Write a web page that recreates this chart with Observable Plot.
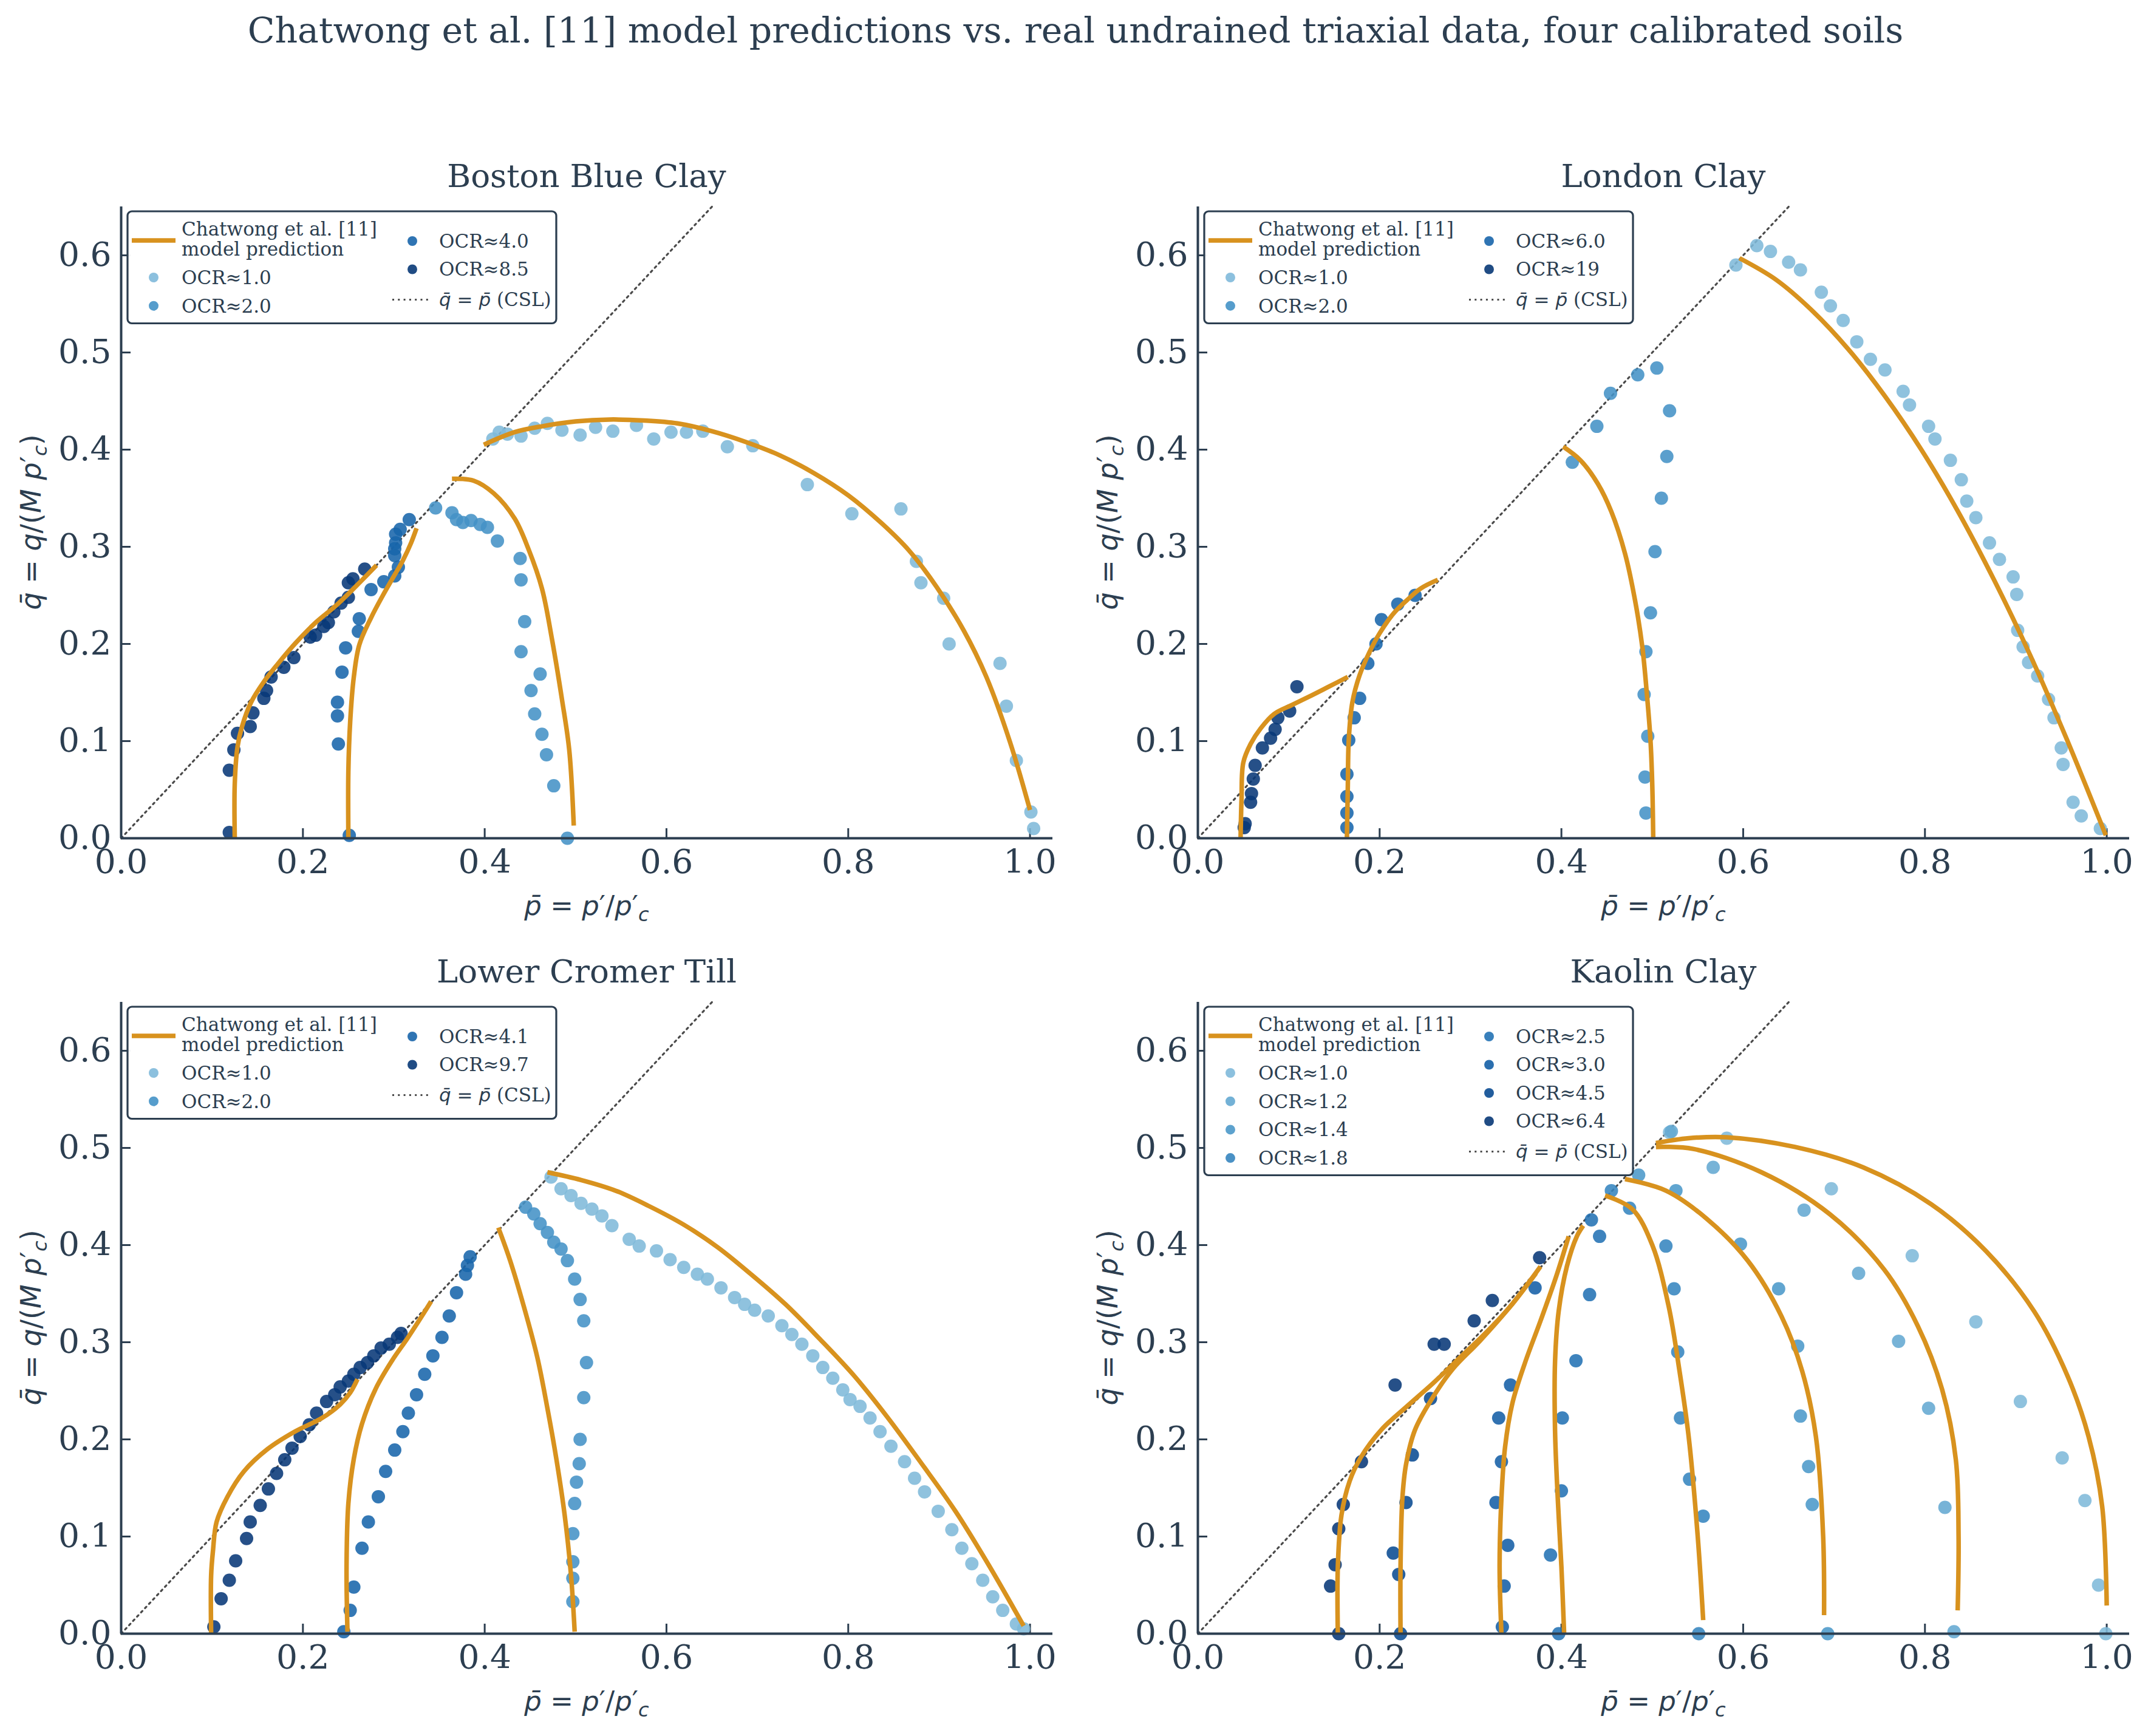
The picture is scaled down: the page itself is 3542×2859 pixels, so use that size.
<!DOCTYPE html>
<html>
<head>
<meta charset="utf-8">
<script src="https://cdn.jsdelivr.net/npm/d3@7"></script>
<script src="https://cdn.jsdelivr.net/npm/@observablehq/plot@0.6"></script>
<style>
  html, body { margin: 0; padding: 0; background: #ffffff; }
  body { width: 3542px; height: 2859px; position: relative; overflow: hidden; }
  #title {
    position: absolute; left: 0; top: 18px; width: 3542px; text-align: center;
    font-family: "DejaVu Serif", serif; font-size: 58.5px; line-height: 64px; color: #2c3e50;
  }
</style>
</head>
<body>
<div id="title">Chatwong et al. [11] model predictions vs. real undrained triaxial data, four calibrated soils</div>
<script>
// ---- axes ticks ----
const X_TICKS = [0, 0.2, 0.4, 0.6, 0.8, 1.0];
const Y_TICKS = [0, 0.1, 0.2, 0.3, 0.4, 0.5, 0.6];
const CSL_ENDS = [0, 0.65];

// ---- Boston Blue Clay ----
const bbcOCR = ["1.0", "2.0", "4.0", "8.5"];
const bbcTests = [
  [[0.409,0.411],[0.416,0.418],[0.425,0.416],[0.440,0.414],[0.455,0.422],[0.469,0.427],[0.485,0.420],[0.505,0.415],[0.522,0.423],[0.541,0.419],[0.567,0.425],[0.586,0.411],[0.605,0.418],[0.622,0.418],[0.640,0.419],[0.667,0.403],[0.695,0.404],[0.755,0.364],[0.804,0.334],[0.858,0.339],[0.875,0.285],[0.880,0.263],[0.905,0.247],[0.911,0.200],[0.967,0.180],[0.974,0.136],[0.985,0.080],[1.001,0.027],[1.004,0.010]],
  [[0.346,0.340],[0.364,0.335],[0.369,0.328],[0.376,0.325],[0.385,0.327],[0.395,0.323],[0.403,0.320],[0.414,0.306],[0.439,0.288],[0.440,0.266],[0.444,0.223],[0.440,0.192],[0.461,0.169],[0.451,0.152],[0.455,0.128],[0.463,0.107],[0.468,0.086],[0.476,0.054],[0.491,0.000]],
  [[0.251,0.003],[0.239,0.097],[0.238,0.126],[0.238,0.140],[0.243,0.171],[0.247,0.196],[0.261,0.213],[0.262,0.226],[0.275,0.256],[0.289,0.264],[0.301,0.270],[0.305,0.279],[0.301,0.291],[0.301,0.298],[0.302,0.304],[0.302,0.313],[0.307,0.318],[0.317,0.328]],
  [[0.119,0.006],[0.119,0.070],[0.124,0.091],[0.128,0.108],[0.142,0.115],[0.145,0.129],[0.157,0.144],[0.160,0.152],[0.165,0.166],[0.179,0.176],[0.190,0.186],[0.208,0.207],[0.214,0.209],[0.223,0.218],[0.228,0.222],[0.234,0.233],[0.242,0.242],[0.250,0.248],[0.250,0.263],[0.255,0.267],[0.268,0.277]]
];
const bbcModel = [
  [[0.399,0.405],[0.433,0.418],[0.463,0.424],[0.500,0.429],[0.537,0.431],[0.575,0.430],[0.612,0.427],[0.650,0.419],[0.687,0.408],[0.725,0.394],[0.762,0.376],[0.800,0.353],[0.837,0.324],[0.867,0.296],[0.897,0.259],[0.927,0.214],[0.952,0.166],[0.978,0.099],[1.000,0.029]],
  [[0.364,0.370],[0.388,0.368],[0.410,0.355],[0.433,0.329],[0.448,0.298],[0.463,0.257],[0.474,0.205],[0.485,0.143],[0.493,0.091],[0.498,0.013]],
  [[0.250,0.000],[0.250,0.069],[0.252,0.120],[0.256,0.166],[0.262,0.199],[0.275,0.227],[0.288,0.250],[0.299,0.268],[0.310,0.286],[0.319,0.304],[0.325,0.319]],
  [[0.125,0.000],[0.125,0.056],[0.128,0.094],[0.133,0.115],[0.143,0.140],[0.157,0.161],[0.172,0.179],[0.192,0.201],[0.214,0.222],[0.237,0.240],[0.259,0.260],[0.281,0.281]]
];

// ---- London Clay ----
const lcOCR = ["1.0", "2.0", "6.0", "19"];
const lcTests = [
  [[0.592,0.590],[0.615,0.610],[0.630,0.604],[0.650,0.593],[0.663,0.585],[0.686,0.562],[0.696,0.548],[0.710,0.533],[0.725,0.511],[0.740,0.493],[0.756,0.482],[0.776,0.460],[0.783,0.446],[0.804,0.424],[0.811,0.411],[0.828,0.389],[0.840,0.369],[0.846,0.347],[0.856,0.330],[0.871,0.304],[0.882,0.287],[0.897,0.269],[0.901,0.251],[0.902,0.214],[0.908,0.197],[0.914,0.181],[0.924,0.167],[0.936,0.143],[0.942,0.124],[0.950,0.093],[0.952,0.076],[0.963,0.037],[0.972,0.023],[0.993,0.010]],
  [[0.412,0.387],[0.439,0.424],[0.454,0.458],[0.484,0.477],[0.505,0.484],[0.519,0.440],[0.516,0.393],[0.510,0.350],[0.503,0.295],[0.498,0.232],[0.493,0.192],[0.491,0.148],[0.495,0.105],[0.492,0.063],[0.493,0.026]],
  [[0.164,0.011],[0.164,0.026],[0.164,0.043],[0.164,0.066],[0.166,0.101],[0.172,0.124],[0.178,0.144],[0.187,0.180],[0.196,0.200],[0.202,0.225],[0.220,0.241],[0.239,0.250]],
  [[0.051,0.011],[0.052,0.015],[0.058,0.037],[0.059,0.046],[0.061,0.061],[0.063,0.075],[0.071,0.093],[0.080,0.103],[0.085,0.112],[0.088,0.124],[0.101,0.131],[0.109,0.156]]
];
const lcModel = [
  [[0.596,0.597],[0.636,0.575],[0.676,0.543],[0.716,0.503],[0.756,0.455],[0.796,0.400],[0.836,0.337],[0.876,0.266],[0.916,0.188],[0.956,0.102],[0.999,0.003]],
  [[0.402,0.403],[0.421,0.389],[0.440,0.365],[0.455,0.336],[0.470,0.293],[0.481,0.245],[0.489,0.197],[0.494,0.149],[0.498,0.101],[0.500,0.054],[0.501,0.001]],
  [[0.164,0.001],[0.165,0.054],[0.166,0.101],[0.170,0.140],[0.178,0.168],[0.189,0.192],[0.200,0.211],[0.215,0.231],[0.230,0.245],[0.245,0.257],[0.264,0.266]],
  [[0.047,0.001],[0.048,0.039],[0.050,0.078],[0.058,0.097],[0.069,0.113],[0.084,0.128],[0.103,0.137],[0.125,0.147],[0.144,0.156],[0.165,0.166]]
];

// ---- Lower Cromer Till ----
const lctOCR = ["1.0", "2.0", "4.1", "9.7"];
const lctTests = [
  [[0.473,0.470],[0.484,0.458],[0.495,0.451],[0.506,0.443],[0.518,0.437],[0.529,0.430],[0.540,0.420],[0.559,0.406],[0.570,0.399],[0.589,0.394],[0.604,0.385],[0.619,0.377],[0.634,0.370],[0.645,0.365],[0.660,0.356],[0.675,0.346],[0.686,0.339],[0.697,0.333],[0.712,0.327],[0.727,0.317],[0.738,0.308],[0.749,0.298],[0.761,0.286],[0.772,0.274],[0.783,0.263],[0.794,0.251],[0.802,0.241],[0.813,0.234],[0.824,0.222],[0.835,0.208],[0.847,0.193],[0.862,0.177],[0.873,0.160],[0.884,0.146],[0.899,0.126],[0.914,0.107],[0.925,0.088],[0.936,0.072],[0.948,0.055],[0.959,0.038],[0.970,0.024],[0.985,0.010],[0.993,0.005]],
  [[0.445,0.439],[0.454,0.432],[0.461,0.422],[0.469,0.413],[0.476,0.403],[0.484,0.396],[0.491,0.384],[0.499,0.365],[0.505,0.344],[0.509,0.322],[0.512,0.279],[0.509,0.243],[0.505,0.200],[0.504,0.175],[0.501,0.156],[0.499,0.134],[0.497,0.103],[0.497,0.074],[0.497,0.057],[0.497,0.033]],
  [[0.245,0.002],[0.252,0.024],[0.256,0.048],[0.265,0.088],[0.272,0.115],[0.283,0.141],[0.291,0.167],[0.301,0.189],[0.310,0.208],[0.316,0.227],[0.325,0.246],[0.334,0.267],[0.343,0.286],[0.353,0.305],[0.361,0.327],[0.369,0.351],[0.379,0.370],[0.381,0.379],[0.384,0.388]],
  [[0.102,0.007],[0.110,0.036],[0.119,0.055],[0.126,0.075],[0.138,0.098],[0.142,0.115],[0.153,0.132],[0.162,0.149],[0.171,0.165],[0.180,0.179],[0.188,0.191],[0.197,0.203],[0.207,0.215],[0.215,0.227],[0.226,0.239],[0.235,0.246],[0.241,0.254],[0.250,0.260],[0.256,0.267],[0.263,0.274],[0.271,0.279],[0.278,0.286],[0.286,0.294],[0.295,0.298],[0.304,0.305],[0.308,0.309]]
];
const lctModel = [
  [[0.469,0.475],[0.506,0.467],[0.544,0.456],[0.581,0.440],[0.619,0.421],[0.656,0.398],[0.693,0.370],[0.731,0.339],[0.768,0.304],[0.806,0.266],[0.843,0.223],[0.880,0.176],[0.918,0.126],[0.955,0.070],[0.993,0.008]],
  [[0.415,0.418],[0.428,0.384],[0.443,0.337],[0.458,0.284],[0.469,0.232],[0.479,0.179],[0.488,0.122],[0.495,0.060],[0.499,0.002]],
  [[0.249,0.002],[0.248,0.069],[0.250,0.134],[0.256,0.180],[0.265,0.216],[0.280,0.252],[0.298,0.281],[0.315,0.304],[0.333,0.330],[0.341,0.342]],
  [[0.099,0.000],[0.099,0.060],[0.101,0.085],[0.105,0.115],[0.117,0.141],[0.135,0.167],[0.161,0.190],[0.191,0.208],[0.221,0.222],[0.241,0.236],[0.252,0.248],[0.260,0.262]]
];

// ---- Kaolin Clay ----
const kcOCR = ["1.0", "1.2", "1.4", "1.8", "2.5", "3.0", "4.5", "6.4"];
const kcTests = [
  [[0.999,0.000],[0.991,0.050],[0.976,0.137],[0.951,0.181],[0.905,0.239],[0.856,0.321],[0.786,0.389],[0.697,0.458],[0.582,0.510],[0.519,0.516]],
  [[0.832,0.002],[0.822,0.130],[0.804,0.232],[0.771,0.301],[0.727,0.371],[0.667,0.436],[0.567,0.480],[0.521,0.517]],
  [[0.693,0.000],[0.676,0.133],[0.672,0.172],[0.663,0.224],[0.660,0.296],[0.639,0.355],[0.597,0.401],[0.526,0.456],[0.485,0.472]],
  [[0.551,0.000],[0.556,0.121],[0.541,0.159],[0.531,0.222],[0.528,0.290],[0.524,0.355],[0.515,0.399],[0.475,0.438],[0.455,0.456]],
  [[0.397,0.000],[0.388,0.081],[0.400,0.147],[0.401,0.222],[0.416,0.281],[0.431,0.349],[0.442,0.409],[0.433,0.426]],
  [[0.335,0.007],[0.337,0.049],[0.341,0.091],[0.328,0.135],[0.334,0.177],[0.331,0.222],[0.344,0.256],[0.371,0.356]],
  [[0.223,0.000],[0.221,0.061],[0.215,0.083],[0.229,0.135],[0.236,0.184],[0.256,0.242]],
  [[0.155,0.000],[0.146,0.049],[0.151,0.071],[0.155,0.108],[0.160,0.133],[0.180,0.177],[0.217,0.256],[0.260,0.298],[0.271,0.298],[0.304,0.322],[0.324,0.343],[0.376,0.387]]
];
const kcModel = [
  [[0.504,0.505],[0.540,0.510],[0.582,0.511],[0.657,0.501],[0.732,0.480],[0.807,0.442],[0.867,0.394],[0.920,0.332],[0.957,0.265],[0.980,0.203],[0.995,0.131],[1.000,0.029]],
  [[0.504,0.501],[0.545,0.499],[0.620,0.475],[0.695,0.432],[0.755,0.375],[0.792,0.317],[0.819,0.251],[0.834,0.179],[0.837,0.100],[0.836,0.024]],
  [[0.470,0.468],[0.515,0.456],[0.560,0.427],[0.605,0.384],[0.642,0.327],[0.665,0.270],[0.680,0.203],[0.688,0.100],[0.689,0.019]],
  [[0.448,0.451],[0.478,0.437],[0.500,0.400],[0.518,0.337],[0.530,0.270],[0.540,0.203],[0.550,0.100],[0.556,0.014]],
  [[0.403,0.000],[0.400,0.069],[0.396,0.139],[0.393,0.209],[0.393,0.280],[0.397,0.332],[0.406,0.378],[0.417,0.409],[0.424,0.420]],
  [[0.334,0.000],[0.332,0.069],[0.334,0.139],[0.338,0.192],[0.346,0.237],[0.360,0.279],[0.377,0.322],[0.394,0.367],[0.408,0.409]],
  [[0.223,0.000],[0.223,0.069],[0.225,0.139],[0.229,0.174],[0.239,0.210],[0.259,0.244],[0.281,0.273],[0.310,0.301],[0.343,0.336],[0.372,0.371]],
  [[0.154,0.000],[0.154,0.069],[0.158,0.122],[0.167,0.157],[0.179,0.181],[0.202,0.210],[0.230,0.234],[0.259,0.258],[0.287,0.283],[0.315,0.308],[0.343,0.336],[0.377,0.378]]
];

// ---- drawing ----
const INK = "#2c3e50";
const ORANGE = "#d8921e";
const CSL_INK = "#4a4a4a";
const F = {ml: 199, mt: 110, mr: 20, mb: 170, w: 1534, h: 1040};

function blues(n) {
  return d3.range(n).map(i => d3.interpolateBlues(0.45 + 0.52 * i / (n - 1)));
}

function mathText(sel, parts) {
  for (const [t, it] of parts) {
    const ts = sel.append("tspan").text(t);
    if (it) ts.attr("font-style", "italic");
  }
}

function drawPanel({title, ocrs, tests, model, left, top}) {
  const colors = blues(ocrs.length);
  const csl = CSL_ENDS.map(v => [v, v]);
  const svg = Plot.plot({
    width: F.ml + F.w + F.mr,
    height: F.mt + F.h + F.mb,
    marginLeft: F.ml, marginTop: F.mt, marginRight: F.mr, marginBottom: F.mb,
    x: {domain: [0, 1.025]},
    y: {domain: [0, 0.65]},
    style: {fontFamily: "'DejaVu Serif', serif", color: INK, background: "transparent", overflow: "visible"},
    marks: [
      Plot.axisX(X_TICKS, {tickSize: 0, tickPadding: 18, fontSize: 55, tickFormat: d => d.toFixed(1), label: null}),
      Plot.axisY(Y_TICKS, {tickSize: 0, tickPadding: 16, fontSize: 55, tickFormat: d => d.toFixed(1), label: null}),
      Plot.tickX(X_TICKS, {x: d => d, insetTop: F.h - 16, stroke: INK, strokeWidth: 3}),
      Plot.tickY(Y_TICKS, {y: d => d, insetRight: F.w - 16, stroke: INK, strokeWidth: 3}),
      Plot.line(csl, {x: d => d[0], y: d => d[1], stroke: CSL_INK, strokeWidth: 3.2, strokeDasharray: "3.2,6.4"}),
      ...tests.map((pts, i) => Plot.dot(pts, {x: d => d[0], y: d => d[1], r: 11, fill: colors[i], fillOpacity: 0.88, stroke: "none"})),
      ...model.map(pts => Plot.line(pts, {x: d => d[0], y: d => d[1], stroke: ORANGE, strokeWidth: 7.5, curve: "catmull-rom", strokeLinecap: "butt"})),
      Plot.ruleX([0], {stroke: INK, strokeWidth: 4}),
      Plot.ruleY([0], {stroke: INK, strokeWidth: 4})
    ]
  });
  svg.style.position = "absolute";
  svg.style.left = left + "px";
  svg.style.top = top + "px";
  svg.style.maxWidth = "none";
  document.body.appendChild(svg);

  const s = d3.select(svg);
  // panel title
  s.append("text").attr("x", F.ml + F.w / 2).attr("y", F.mt - 51).attr("dy", "0.36em")
    .attr("text-anchor", "middle").attr("font-size", 53).attr("fill", INK).text(title);

  // x label: p̄ = p′/p′c
  const xl = s.append("text").attr("x", F.ml + F.w / 2).attr("y", F.mt + F.h + 111).attr("dy", "0.36em")
    .attr("text-anchor", "middle").attr("font-family", "'DejaVu Sans', sans-serif").attr("font-size", 45).attr("fill", INK);
  mathText(xl, [["p\u0304", true], [" = ", false], ["p", true], ["\u2032/", false], ["p", true], ["\u2032", false]]);
  xl.append("tspan").attr("font-style", "italic").attr("font-size", 32).attr("dy", 10).text("c");

  // y label: q̄ = q/(M p′c)
  const yl = s.append("text").attr("transform", `translate(${F.ml - 149},${F.mt + F.h / 2}) rotate(-90)`)
    .attr("dy", "0.36em").attr("text-anchor", "middle").attr("font-family", "'DejaVu Sans', sans-serif")
    .attr("font-size", 46).attr("fill", INK);
  mathText(yl, [["q\u0304", true], [" = ", false], ["q", true], ["/(", false], ["M", true], [" ", false], ["p", true], ["\u2032", false]]);
  yl.append("tspan").attr("font-style", "italic").attr("font-size", 32).attr("dy", 10).text("c");
  yl.append("tspan").attr("dy", -10).text(")");

  // legend
  const L = F.ml + 11, T = F.mt + 8;
  const n1 = Math.floor(ocrs.length / 2), n2 = ocrs.length - n1;
  const row1 = i => T + 109 + 46.7 * i;
  const row2 = i => T + 49 + 46.5 * i;
  const cslY = row2(n2 - 1) + 50;
  const boxH = Math.max(row1(n1 - 1) + 28, cslY + 39) - T;
  const g = s.append("g").attr("font-size", 31).attr("fill", INK).attr("text-anchor", "start");
  g.append("rect").attr("x", L).attr("y", T).attr("width", 706).attr("height", boxH)
    .attr("rx", 7).attr("fill", "#ffffff").attr("fill-opacity", 0.95).attr("stroke", INK).attr("stroke-width", 3.2);
  g.append("line").attr("x1", L + 7).attr("x2", L + 79).attr("y1", T + 48).attr("y2", T + 48)
    .attr("stroke", ORANGE).attr("stroke-width", 7.5);
  g.append("text").attr("x", L + 89).attr("y", T + 29).attr("dy", "0.35em").text("Chatwong et al. [11]");
  g.append("text").attr("x", L + 89).attr("y", T + 62).attr("dy", "0.35em").text("model prediction");
  ocrs.forEach((o, i) => {
    const col2 = i >= n1;
    const cy = col2 ? row2(i - n1) : row1(i);
    const mx = col2 ? L + 469 : L + 43;
    const tx = col2 ? L + 513 : L + 89;
    g.append("circle").attr("cx", mx).attr("cy", cy).attr("r", 8).attr("fill", colors[i]).attr("fill-opacity", 0.9);
    g.append("text").attr("x", tx).attr("y", cy).attr("dy", "0.35em").text("OCR\u2248" + o);
  });
  g.append("line").attr("x1", L + 436).attr("x2", L + 498).attr("y1", cslY).attr("y2", cslY)
    .attr("stroke", CSL_INK).attr("stroke-width", 3).attr("stroke-dasharray", "3,6.3");
  const ct = g.append("text").attr("x", L + 513).attr("y", cslY).attr("dy", "0.35em");
  ct.append("tspan").attr("font-family", "'DejaVu Sans', sans-serif").attr("font-style", "italic").text("q\u0304");
  ct.append("tspan").attr("font-family", "'DejaVu Sans', sans-serif").text(" = ");
  ct.append("tspan").attr("font-family", "'DejaVu Sans', sans-serif").attr("font-style", "italic").text("p\u0304");
  ct.append("tspan").text(" (CSL)");
}

drawPanel({title: "Boston Blue Clay", ocrs: bbcOCR, tests: bbcTests, model: bbcModel, left: 0, top: 230});
drawPanel({title: "London Clay", ocrs: lcOCR, tests: lcTests, model: lcModel, left: 1773, top: 230});
drawPanel({title: "Lower Cromer Till", ocrs: lctOCR, tests: lctTests, model: lctModel, left: 0, top: 1540});
drawPanel({title: "Kaolin Clay", ocrs: kcOCR, tests: kcTests, model: kcModel, left: 1773, top: 1540});
</script>
</body>
</html>
